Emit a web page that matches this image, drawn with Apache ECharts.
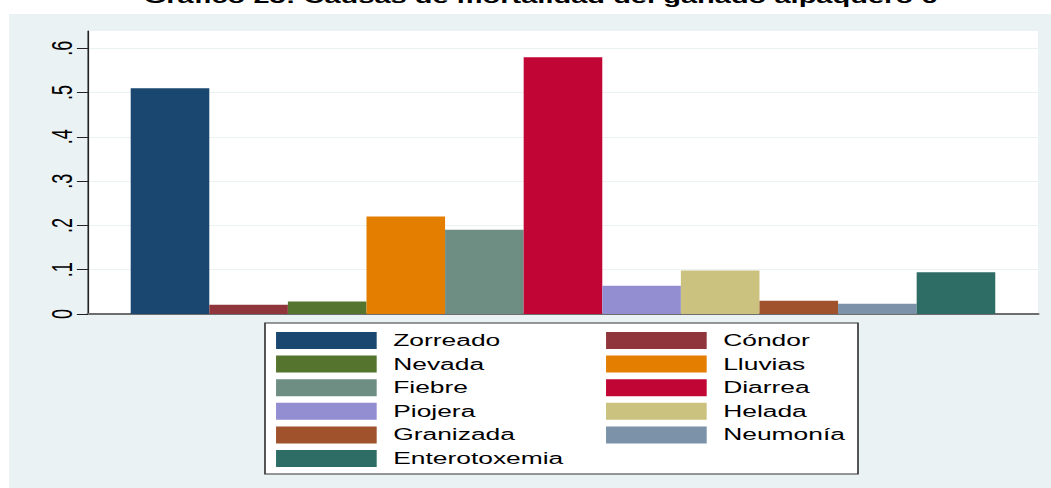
<!DOCTYPE html>
<html>
<head>
<meta charset="utf-8">
<script src="https://cdn.jsdelivr.net/npm/echarts@6/dist/echarts.min.js"></script>
<style>
  html, body { margin: 0; padding: 0; background: #fff; overflow: hidden; }
  /* the reference is stretched sideways, so draw narrow and scale it */
  #chart { width: 637px; height: 488px; transform: scaleX(1.65); transform-origin: 0 0; }
</style>
</head>
<body>
<div id="chart"></div>
<script>
const causes = ['Zorreado', 'Cóndor', 'Nevada', 'Lluvias', 'Fiebre', 'Diarrea',
    'Piojera', 'Helada', 'Granizada', 'Neumonía', 'Enterotoxemia'];
const shares = [0.51, 0.021, 0.028, 0.22, 0.19, 0.58, 0.064, 0.098, 0.03, 0.023, 0.094];
const colors = ['#1a476f', '#90353b', '#55752f', '#e37e00', '#6e8e84', '#c10534',
    '#938dd2', '#cac27e', '#a0522d', '#7b92a8', '#2d6d66'];
const yTicks = [0, 0.1, 0.2, 0.3, 0.4, 0.5, 0.6];
const legendLeft = ['Zorreado', 'Nevada', 'Fiebre', 'Piojera', 'Granizada', 'Enterotoxemia'];
const legendRight = ['Cóndor', 'Lluvias', 'Diarrea', 'Helada', 'Neumonía'];

const font = 'Liberation Sans, Arial, sans-serif';
const myChart = echarts.init(document.getElementById('chart'), null, { renderer: 'svg' });

const legendBase = {
    orient: 'vertical',
    top: 332,
    padding: 0,
    itemWidth: 61,
    itemHeight: 17,
    itemGap: 6.6,
    icon: 'rect',
    selectedMode: false,
    textStyle: {
        fontFamily: font,
        fontSize: 16,
        lineHeight: 17,
        color: '#000',
        padding: [0, 0, 0, 5],
    },
};

const option = {
    animation: false,
    color: colors,
    title: {
        text: 'Gráfico 23: Causas de mortalidad del ganado alpaquero 6',
        left: 327.6,
        top: -12,
        padding: 0,
        textAlign: 'center',
        textStyle: {
            fontFamily: font,
            fontSize: 17.6,
            fontWeight: 'bold',
            color: '#000',
        },
    },
    graphic: [
        {
            type: 'rect',
            z: -10,
            silent: true,
            shape: { x: 5.5, y: 14, width: 640, height: 480 },
            style: { fill: '#eaf2f3' },
        },
        {
            type: 'rect',
            z: 1,
            silent: true,
            shape: { x: 160.6, y: 323, width: 359.4, height: 151 },
            style: { fill: '#fff', stroke: '#333', lineWidth: 1 },
        },
    ],
    legend: [
        Object.assign({}, legendBase, { left: 167.3, data: legendLeft }),
        Object.assign({}, legendBase, { left: 367.3, data: legendRight }),
    ],
    grid: {
        left: 53.3,
        right: 7.9,
        top: 31,
        bottom: 174,
        show: true,
        backgroundColor: '#fff',
        borderWidth: 0,
    },
    xAxis: {
        type: 'category',
        data: [''],
        axisLine: { lineStyle: { color: '#6e6e6e', width: 2 } },
        axisTick: { show: false },
        axisLabel: { show: false },
    },
    yAxis: {
        type: 'value',
        min: 0,
        max: 0.639,
        interval: 0.1,
        axisLine: { show: true, lineStyle: { color: '#222', width: 1 } },
        axisTick: { show: true, length: 6.7, lineStyle: { color: '#222' }, customValues: yTicks },
        axisLabel: {
            customValues: yTicks,
            rotate: 90,
            margin: 7,
            fontFamily: font,
            fontSize: 18,
            color: '#000',
            formatter: function (value) {
                return value === 0 ? '0' : value.toFixed(1).replace(/^0/, '');
            },
        },
        splitLine: { lineStyle: { color: '#eaf2f3', width: 1 } },
    },
    series: causes.map(function (name, i) {
        return {
            name: name,
            type: 'bar',
            barGap: '0%',
            barCategoryGap: '9%',
            data: [shares[i]],
        };
    }),
};
myChart.setOption(option);
</script>
</body>
</html>
